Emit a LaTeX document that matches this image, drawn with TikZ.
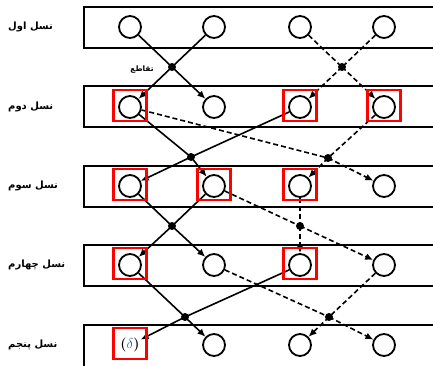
\documentclass[tikz,border=0pt]{standalone}
\usepackage{fontspec}
\usepackage{amsmath}
\usetikzlibrary{arrows.meta}
\newfontfamily\arabicfont[Script=Arabic]{DejaVu Sans}
\TeXXeTstate=1
\definecolor{deltablue}{RGB}{40,90,170}

\begin{document}
\begin{tikzpicture}[x=1pt,y=-1pt,
  gene/.style={circle,draw,line width=1.8pt,minimum size=22pt,inner sep=0pt},
  cross/.style={circle,fill,inner sep=0pt,minimum size=8pt},
  sel/.style={draw=red,line width=2.8pt,minimum width=33pt,minimum height=31pt,inner sep=0pt},
  link/.style={line width=1.6pt},
  dlink/.style={link,dash pattern=on 5pt off 3pt},
  tip/.style={-{Latex[length=8pt,width=7pt]}},
  band/.style={line width=1.8pt},
  gen/.style={anchor=west,inner sep=0pt,font=\arabicfont\bfseries\fontsize{10}{12}\selectfont}
]
\useasboundingbox (0,0) rectangle (433,365);

% generation bands (open on the right)
\foreach \t in {7,86,166,245}
  \draw[band] (434,\t) -- (84,\t) -- (84,\t+41) -- (434,\t+41);
\draw[band] (434,325) -- (84,325) -- (84,367);

% generation labels
\node[gen] (g1) at (8,27)  {\beginR نسل اول\endR};
\node[gen] (g2) at (8,107) {\beginR نسل دوم\endR};
\node[gen] (g3) at (8,186) {\beginR نسل سوم\endR};
\node[gen] (g4) at (8,265) {\beginR نسل چهارم\endR};
\node[gen] (g5) at (8,345) {\beginR نسل پنجم\endR};

% individuals
\foreach \r/\y in {1/27,2/107,3/186,4/265}
  \foreach \c/\x in {1/130,2/214,3/300,4/384}
    \node[gene] (c\r\c) at (\x,\y) {};
\node[circle,minimum size=22pt,inner sep=0pt] (c51) at (130,345)
  {\fontsize{14}{15}\selectfont\textbf{(}\textcolor{deltablue}{$\delta$}\textbf{)}};
\foreach \c/\x in {2/214,3/300,4/384}
  \node[gene] (c5\c) at (\x,345) {};

% crossover points
\node[cross] (d1) at (172,67) {};
\node[cross] (e1) at (342,67) {};
\node[cross] (d2) at (191,157) {};
\node[cross] (e2) at (328,158) {};
\node[cross] (d3) at (172,226) {};
\node[cross] (e3) at (300,226) {};
\node[cross] (d4) at (185,317) {};
\node[cross] (e4) at (329,317) {};

\node[font=\arabicfont\bfseries\fontsize{7.5}{9}\selectfont] (lab) at (142,70) {\beginR تقاطع\endR};

% solid crossovers
\foreach \a/\d/\b in {c11/d1/c22, c12/d1/c21, c21/d2/c32, c23/d2/c31,
                      c31/d3/c42, c32/d3/c41, c41/d4/c52, c43/d4/c51} {
  \draw[link] (\a) -- (\d.center);
  \draw[link,tip] (\d.center) -- (\b);
}
% dashed crossovers
\foreach \a/\d/\b in {c13/e1/c23, c14/e1/c24, c21/e2/c34, c24/e2/c33,
                      c32/e3/c44, c33/e3/c43, c42/e4/c54, c44/e4/c53} {
  \draw[dlink] (\a) -- (\d.center);
  \draw[dlink,tip] (\d.center) -- (\b);
}

% selected individuals
\foreach \n in {c21,c23,c24,c31,c32,c33,c41,c43,c51}
  \node[sel] at ([yshift=1.5pt]\n.center) {};
\end{tikzpicture}
\end{document}
